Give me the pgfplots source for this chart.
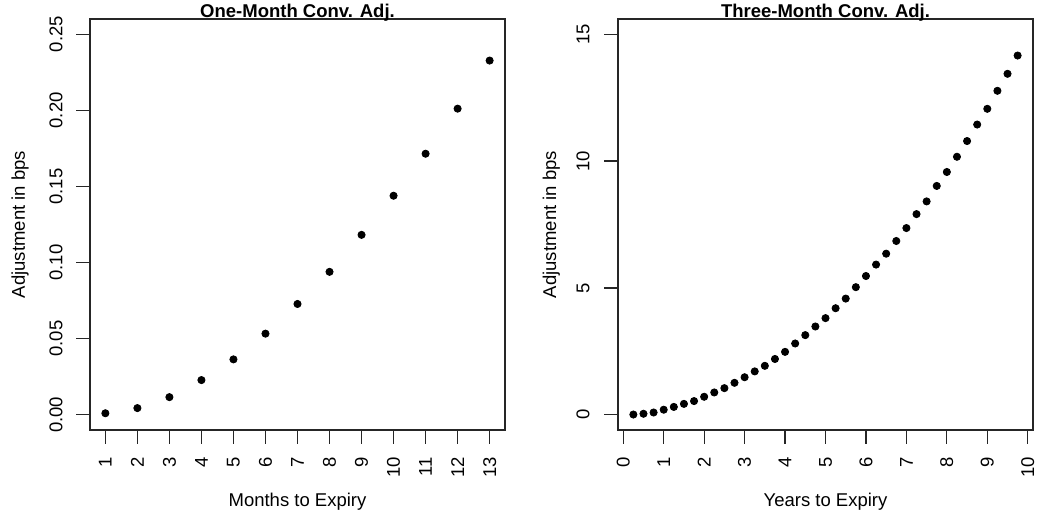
\documentclass[border=0pt]{standalone}
\usepackage{fontspec}
\setmainfont{Liberation Sans}
\usepackage{pgfplots}
\pgfplotsset{compat=1.18}

% R base-graphics look: box, outside ticks, rotated labels
\pgfplotsset{rplot/.style={
  scale only axis, width=207.5pt, height=205.5pt,
  anchor=south west,
  axis line style={line width=0.6pt, black!85},
  tick style={line width=0.6pt, black!85},
  tick align=outside, major tick length=6.8pt,
  xtick pos=bottom, ytick pos=left,
  font=\fontsize{9.25}{11}\selectfont,
  /pgf/number format/assume math mode=true,
  scaled ticks=false,
  xticklabel style={rotate=90, anchor=east, inner sep=0pt},
  yticklabel style={rotate=90, anchor=base, inner sep=0pt},
  xticklabel shift=6.5pt,
  every axis title/.style={font=\fontsize{9.25}{11}\selectfont\bfseries,
    at={(axis description cs:0.5,1)}, anchor=base, yshift=0.8pt, inner sep=0pt},
  xlabel style={at={(axis description cs:0.5,-0.1873)}, anchor=base, inner sep=0pt},
}}

\begin{document}
\begin{tikzpicture}
\path[use as bounding box] (0,0) rectangle (519.5pt,258pt);

\begin{axis}[rplot, at={(45pt,43pt)},
  xmin=0.52, xmax=13.48, ymin=-0.01, ymax=0.26,
  xtick={1,...,13}, ytick={0,0.05,0.10,0.15,0.20,0.25},
  yticklabel style={/pgf/number format/.cd, fixed, fixed zerofill, precision=2},
  yticklabel shift=7pt,
  ylabel style={at={(axis description cs:-0.157,0.5)}, anchor=base, inner sep=0pt},
  title={One-Month Conv. Adj.},
  xlabel={Months to Expiry}, ylabel={Adjustment in bps}]
\addplot[only marks, mark=*, mark size=1.8pt, black] table {
x y
1 0.0010
2 0.0044
3 0.0116
4 0.0228
5 0.0364
6 0.0533
7 0.0728
8 0.0939
9 0.1182
10 0.1439
11 0.1715
12 0.2011
13 0.2327
};
\end{axis}

\begin{axis}[rplot, at={(309pt,43pt)},
  xmin=-0.13, xmax=10.13, ymin=-0.6, ymax=15.6,
  xtick={0,...,10}, ytick={0,5,10,15},
  yticklabel shift=7.5pt,
  ylabel style={at={(axis description cs:-0.149,0.5)}, anchor=base, inner sep=0pt},
  title={Three-Month Conv. Adj.},
  xlabel={Years to Expiry}, ylabel={Adjustment in bps}]
\addplot[only marks, mark=*, mark size=1.8pt, black] table {
x y
0.25 0.01
0.50 0.04
0.75 0.09
1.00 0.20
1.25 0.31
1.50 0.43
1.75 0.54
2.00 0.71
2.25 0.88
2.50 1.05
2.75 1.26
3.00 1.48
3.25 1.71
3.50 1.93
3.75 2.20
4.00 2.48
4.25 2.81
4.50 3.14
4.75 3.48
5.00 3.81
5.25 4.20
5.50 4.58
5.75 5.03
6.00 5.47
6.25 5.92
6.50 6.35
6.75 6.85
7.00 7.36
7.25 7.91
7.50 8.41
7.75 9.02
8.00 9.57
8.25 10.17
8.50 10.79
8.75 11.44
9.00 12.06
9.25 12.77
9.50 13.44
9.75 14.16
};
\end{axis}
\end{tikzpicture}
\end{document}
